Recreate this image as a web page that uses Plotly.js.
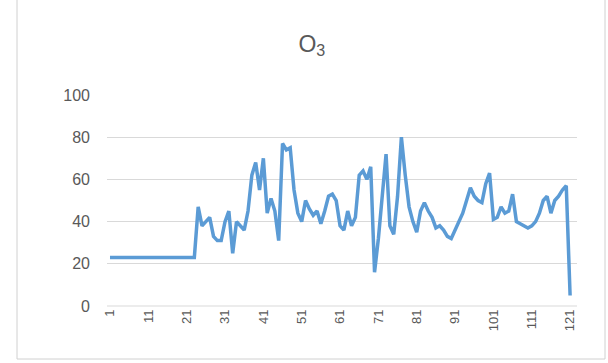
<!DOCTYPE html>
<html>
<head>
<meta charset="utf-8">
<script src="https://cdn.plot.ly/plotly-3.0.1.min.js"></script>
<style>
html,body{margin:0;padding:0;background:#fff;}
#chart{width:608px;height:363px;}
</style>
</head>
<body>
<div id="chart"></div>
<script>
// Category indices 1..121
const categories = Array.from({length: 121}, (_, i) => i + 1);

// O3 values
const o3Values = [
  23, 23, 23, 23, 23, 23, 23, 23, 23, 23,
  23, 23, 23, 23, 23, 23, 23, 23, 23, 23,
  23, 23, 23, 47, 38, 40, 42, 33, 31, 31,
  40, 45, 25, 40, 38, 36, 45, 62, 68, 55,
  70, 44, 51, 45, 31, 77, 74, 75, 55, 44,
  40, 50, 46, 43, 45, 39, 45, 52, 53, 50,
  38, 36, 45, 38, 42, 62, 64, 60, 66, 16,
  32, 52, 72, 38, 34, 52, 80, 62, 47, 40,
  35, 45, 49, 45, 42, 37, 38, 36, 33, 32,
  36, 40, 44, 50, 56, 52, 50, 49, 58, 63,
  41, 42, 47, 44, 45, 53, 40, 39, 38, 37,
  38, 40, 44, 50, 52, 44, 50, 52, 55, 57,
  5
];

const xTickVals = [1, 11, 21, 31, 41, 51, 61, 71, 81, 91, 101, 111, 121];
const xTickText = ["1", "11", "21", "31", "41", "51", "61", "71", "81", "91", "101", "111", "121"];
const yTickVals = [0, 20, 40, 60, 80, 100];

const trace = {
  x: categories,
  y: o3Values,
  type: "scatter",
  mode: "lines",
  line: {color: "#5B9BD5", width: 3.5, shape: "linear"},
  hoverinfo: "x+y"
};

const layout = {
  width: 608,
  height: 363,
  margin: {l: 107, r: 31, t: 95, b: 57},
  paper_bgcolor: "#ffffff",
  plot_bgcolor: "#ffffff",
  showlegend: false,
  font: {family: "Liberation Sans, Arial, sans-serif", color: "#595959", size: 13},
  title: {
    text: "O<sub>3</sub>",
    x: 0.513, xanchor: "center",
    y: 0.88, yanchor: "middle",
    font: {size: 23, color: "#595959", family: "Liberation Sans, Arial, sans-serif"}
  },
  xaxis: {
    type: "linear",
    range: [0.22, 122.8],
    tickmode: "array",
    tickvals: xTickVals,
    ticktext: xTickText,
    tickangle: -90,
    showgrid: false,
    zeroline: false,
    showline: false,
    ticks: "",
    tickfont: {size: 13, color: "#595959"},
    fixedrange: true
  },
  yaxis: {
    range: [0, 100],
    tickmode: "array",
    tickvals: yTickVals,
    showgrid: true,
    gridcolor: "#D9D9D9",
    gridwidth: 1,
    zeroline: false,
    showline: false,
    ticks: "",
    ticklabelstandoff: 16,
    tickfont: {size: 16, color: "#595959"},
    fixedrange: true
  },
  shapes: [
    {type: "line", xref: "paper", yref: "paper", x0: 0, x1: 1, y0: 0, y1: 0,
     line: {color: "#D9D9D9", width: 1}},
    {type: "rect", xref: "paper", yref: "paper",
     x0: -90/470, x1: 498/470, y0: -53/211, y1: 312/211,
     line: {color: "#D0D0D0", width: 1}, fillcolor: "rgba(0,0,0,0)", layer: "below"}
  ]
};

Plotly.newPlot("chart", [trace], layout, {displayModeBar: false, staticPlot: true});
</script>
</body>
</html>
